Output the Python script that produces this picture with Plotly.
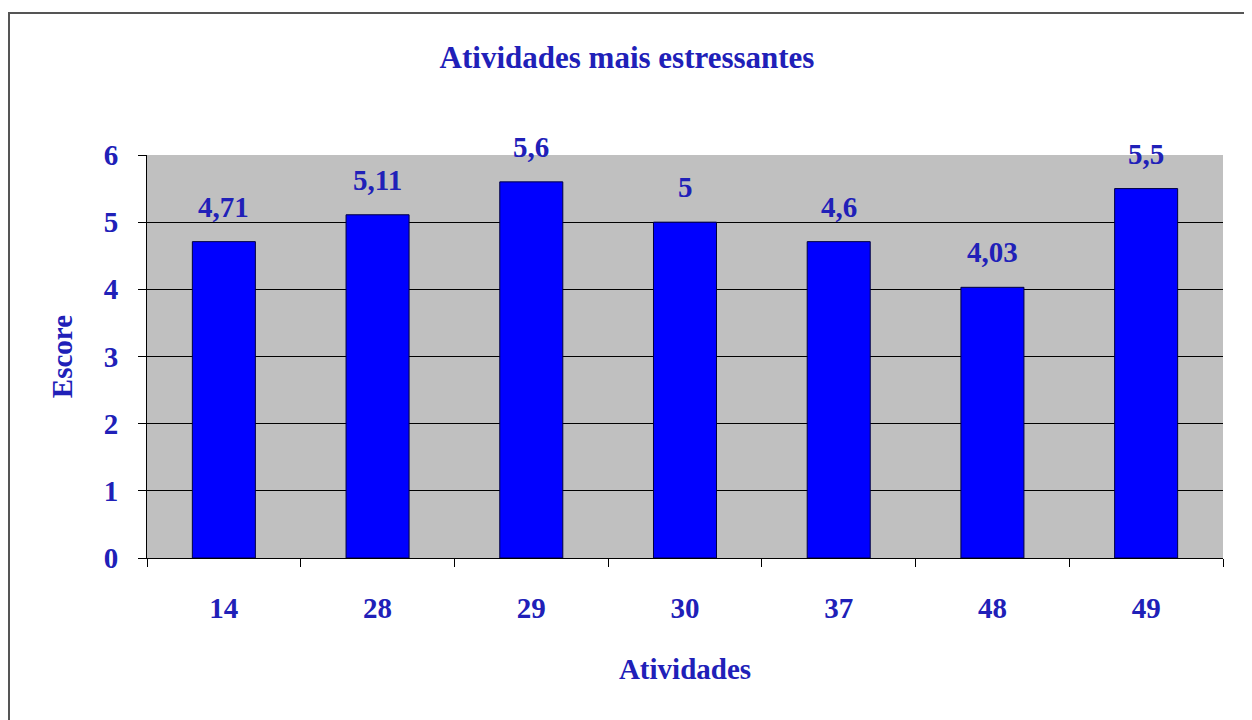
import plotly.graph_objects as go

categories = ["14", "28", "29", "30", "37", "48", "49"]
heights = [4.71, 5.11, 5.6, 5.0, 4.71, 4.03, 5.5]
labels = ["4,71", "5,11", "5,6", "5", "4,6", "4,03", "5,5"]
y_ticks = [0, 1, 2, 3, 4, 5, 6]

TXT = "#2020B8"
FONT = "Liberation Serif"

fig = go.Figure()
fig.add_trace(go.Bar(
    x=categories, y=heights,
    marker=dict(color="#0000FF", line=dict(color="#000040", width=1)),
    hoverinfo="skip",
))

for i, (h, t) in enumerate(zip(heights, labels)):
    fig.add_annotation(x=i, y=h, xref="x", yref="y", text=f"<b>{t}</b>", showarrow=False,
                       yanchor="bottom", yshift=17,
                       font=dict(family=FONT, size=29, color=TXT))

fig.update_layout(
    width=1252, height=720,
    margin=dict(l=139, r=37, t=147, b=170, autoexpand=False),
    paper_bgcolor="white", plot_bgcolor="#C0C0C0",
    bargap=0.59, showlegend=False,
    title=dict(text="<b>Atividades mais estressantes</b>", x=(627 - 8) / 1252, xanchor="center",
               xref="container", y=1 - 49 / 720, yanchor="middle",
               font=dict(family=FONT, size=31, color=TXT)),
    xaxis=dict(
        type="category", range=[-0.5, 6.5], tickson="boundaries", ticks="outside", ticklen=8,
        tickcolor="black", showline=True, linecolor="black", linewidth=1,
        showgrid=False, tickangle=0, automargin=False,
        tickfont=dict(family=FONT, size=29, color=TXT, weight="bold"),
        ticklabelstandoff=24,
        title=dict(text="<b>Atividades</b>", font=dict(family=FONT, size=29, color=TXT),
                   standoff=35),
    ),
    yaxis=dict(
        range=[0, 6], tickvals=y_ticks, ticks="outside", ticklen=8, automargin=False,
        tickcolor="black", showline=True, linecolor="black", linewidth=1,
        showgrid=True, gridcolor="black", gridwidth=1, zeroline=False,
        tickfont=dict(family=FONT, size=29, color=TXT, weight="bold"),
        ticklabelstandoff=14,
        title=dict(text="<b>Escore</b>", font=dict(family=FONT, size=29, color=TXT),
                   standoff=22),
    ),
)

# outer chart border
fig.add_shape(type="rect", xref="paper", yref="paper",
              x0=(1 - 139) / 1076, x1=(1239 - 139) / 1076,
              y0=(550 - 740) / 403, y1=(550 - 5) / 403,
              line=dict(color="#555555", width=2), layer="below")

fig.write_html("out.html")
